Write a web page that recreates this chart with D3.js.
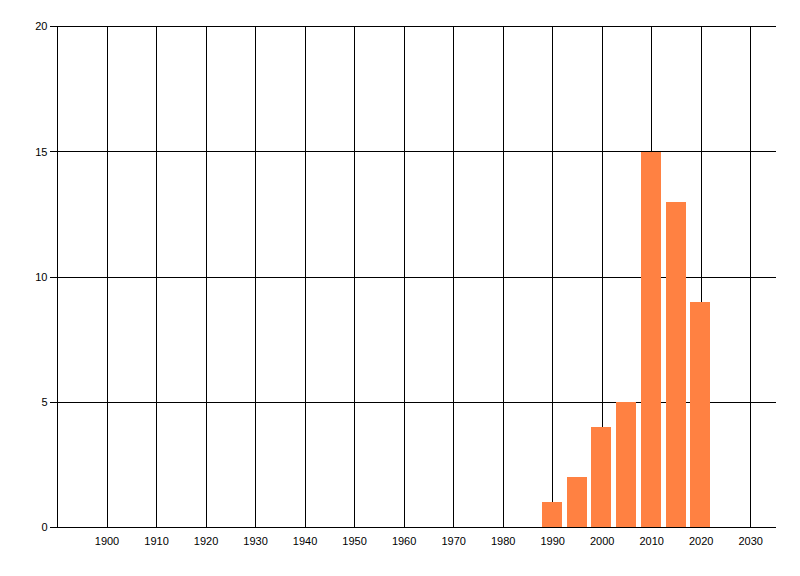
<!DOCTYPE html>
<html>
<head>
<meta charset="utf-8">
<script src="https://cdn.jsdelivr.net/npm/d3@7"></script>
<style>
  body { margin: 0; background: #fff; }
  svg { display: block; }
  text { font-family: "Liberation Sans", Arial, sans-serif; font-size: 11px; fill: #000; }
</style>
</head>
<body>
<div id="chart"></div>
<script>
const years = [1990, 1995, 2000, 2005, 2010, 2015, 2020];
const counts = [1, 2, 4, 5, 15, 13, 9];
const xTicks = [1900, 1910, 1920, 1930, 1940, 1950, 1960, 1970, 1980, 1990, 2000, 2010, 2020, 2030];
const yTicks = [0, 5, 10, 15, 20];

const width = 800;
const height = 576;
const margin = { left: 57.5, right: 24.5, top: 26.5, bottom: 48.5 };

const svg = d3.select('#chart').append('svg')
  .attr('width', width)
  .attr('height', height);

const xScale = d3.scaleLinear()
  .domain([1890, 2035])
  .range([margin.left, width - margin.right]);

const yScale = d3.scaleLinear()
  .domain([0, 20])
  .range([height - margin.bottom, margin.top]);

const snap = v => Math.round(v - 0.5) + 0.5;

// grid
const grid = svg.append('g').attr('stroke', '#000').attr('stroke-width', 1).attr('shape-rendering', 'crispEdges');
grid.selectAll('line.v')
  .data(xTicks)
  .join('line')
  .attr('class', 'v')
  .attr('x1', d => snap(xScale(d)))
  .attr('x2', d => snap(xScale(d)))
  .attr('y1', yScale(20))
  .attr('y2', yScale(0));

grid.selectAll('line.h')
  .data(yTicks)
  .join('line')
  .attr('class', 'h')
  .attr('x1', margin.left - 8)
  .attr('x2', width - margin.right)
  .attr('y1', d => snap(yScale(d)))
  .attr('y2', d => snap(yScale(d)));

grid.append('line')
  .attr('x1', margin.left)
  .attr('x2', margin.left)
  .attr('y1', yScale(20))
  .attr('y2', yScale(0));

// bars, drawn over the grid, sitting just above the zero line
const barWidth = xScale(1894) - xScale(1890);
const base = Math.round(yScale(0)) - 1;
svg.append('g')
  .selectAll('rect')
  .data(years)
  .join('rect')
  .attr('x', d => Math.round(xScale(d) - barWidth / 2) - 1)
  .attr('y', (d, i) => Math.round(yScale(counts[i])))
  .attr('width', Math.round(barWidth))
  .attr('height', (d, i) => base - Math.round(yScale(counts[i])))
  .attr('fill', '#ff8142');

// y labels
svg.append('g')
  .selectAll('text')
  .data(yTicks)
  .join('text')
  .attr('x', margin.left - 10)
  .attr('y', d => yScale(d))
  .attr('dy', '0.35em')
  .attr('text-anchor', 'end')
  .text(d => d);

// x labels
svg.append('g')
  .selectAll('text')
  .data(xTicks)
  .join('text')
  .attr('x', d => xScale(d))
  .attr('y', yScale(0) + 17)
  .attr('text-anchor', 'middle')
  .text(d => d);
</script>
</body>
</html>
